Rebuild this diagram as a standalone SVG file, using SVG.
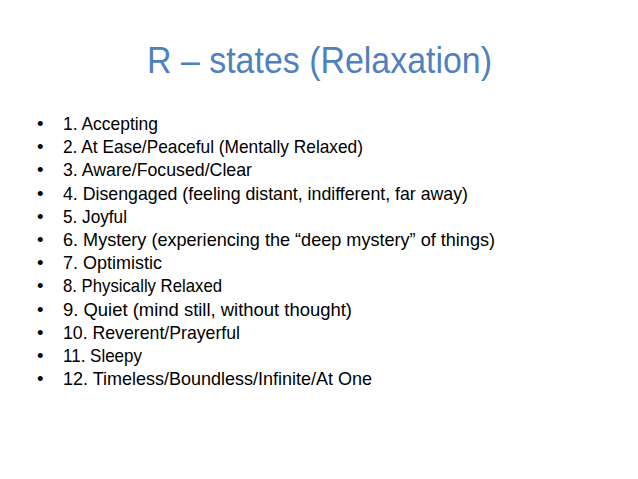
<svg xmlns="http://www.w3.org/2000/svg" width="638" height="479" viewBox="0 0 638 479">
<style>
.title{font-family:"Liberation Sans",Arial,sans-serif;font-size:36px;fill:#4F81BD}
.b{font-family:"Liberation Sans",Arial,sans-serif;font-size:18.5px;fill:#000}
.dot{font-family:"Liberation Sans",Arial,sans-serif;font-size:18.5px;fill:#000}
</style>
<rect width="638" height="479" fill="#fff"/>
<g id="title">
<text class="title" x="147" y="73" textLength="345" lengthAdjust="spacingAndGlyphs">R – states (Relaxation)</text>
</g>
<g id="bullets">
<g class="dot">
<text x="37" y="130">•</text>
<text x="37" y="153.2">•</text>
<text x="37" y="176.4">•</text>
<text x="37" y="199.6">•</text>
<text x="37" y="222.8">•</text>
<text x="37" y="246">•</text>
<text x="37" y="269.2">•</text>
<text x="37" y="292.4">•</text>
<text x="37" y="315.6">•</text>
<text x="37" y="338.8">•</text>
<text x="37" y="362">•</text>
<text x="37" y="385.2">•</text>
</g>
<text class="b" x="63" y="130" textLength="95" lengthAdjust="spacingAndGlyphs">1. Accepting</text>
<text class="b" x="63" y="153.2" textLength="300" lengthAdjust="spacingAndGlyphs">2. At Ease/Peaceful (Mentally Relaxed)</text>
<text class="b" x="63" y="176.4" textLength="189" lengthAdjust="spacingAndGlyphs">3. Aware/Focused/Clear</text>
<text class="b" x="63" y="199.6" textLength="405" lengthAdjust="spacingAndGlyphs">4. Disengaged (feeling distant, indifferent, far away)</text>
<text class="b" x="63" y="222.8" textLength="64" lengthAdjust="spacingAndGlyphs">5. Joyful</text>
<text class="b" x="63" y="246" textLength="432" lengthAdjust="spacingAndGlyphs">6. Mystery (experiencing the “deep mystery” of things)</text>
<text class="b" x="63" y="269.2" textLength="99" lengthAdjust="spacingAndGlyphs">7. Optimistic</text>
<text class="b" x="63" y="292.4" textLength="159" lengthAdjust="spacingAndGlyphs">8. Physically Relaxed</text>
<text class="b" x="63" y="315.6" textLength="289" lengthAdjust="spacingAndGlyphs">9. Quiet (mind still, without thought)</text>
<text class="b" x="63" y="338.8" textLength="177" lengthAdjust="spacingAndGlyphs">10. Reverent/Prayerful</text>
<text class="b" x="63" y="362" textLength="79" lengthAdjust="spacingAndGlyphs">11. Sleepy</text>
<text class="b" x="63" y="385.2" textLength="309" lengthAdjust="spacingAndGlyphs">12. Timeless/Boundless/Infinite/At One</text>
</g>
</svg>
